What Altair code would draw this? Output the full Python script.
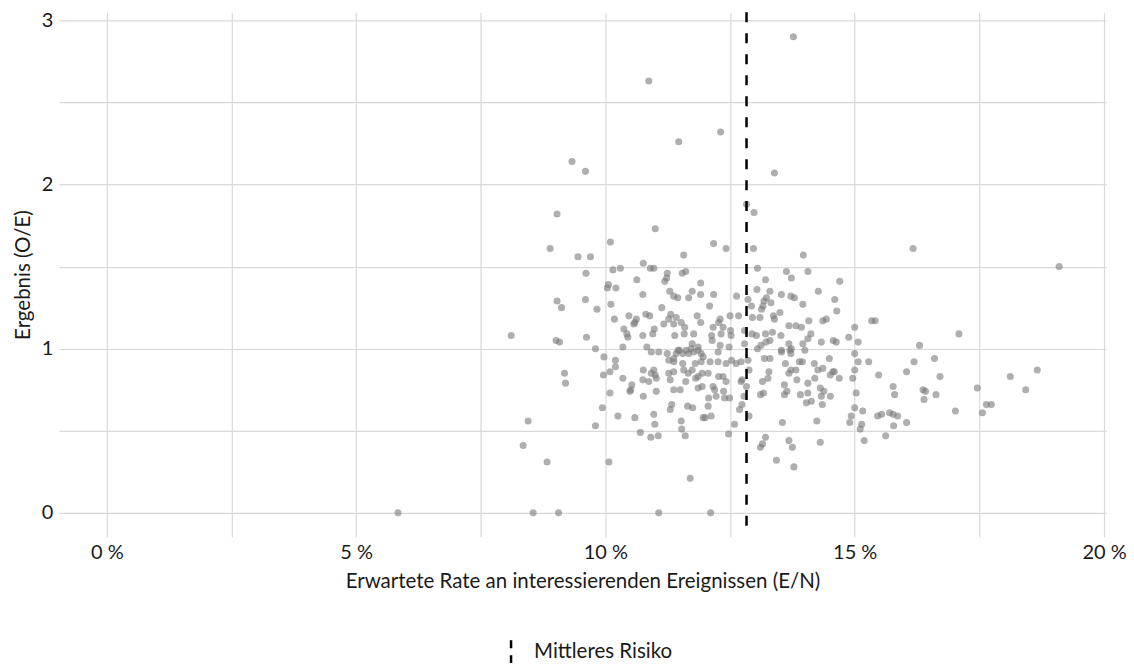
import altair as alt
import pandas as pd

# Expected rate of events of interest (E/N), in percent
rate_pct = [
    5.84, 8.55, 9.06, 11.07, 12.11, 8.83, 8.35, 8.45, 10.07, 11.70, 8.11,
    13.77, 10.87, 12.31, 11.47, 9.33, 9.60, 13.39, 12.83, 12.98, 9.03, 11.00,
    8.89, 10.10, 9.45, 9.70, 12.17, 12.42, 11.57, 12.97, 16.17, 19.10, 13.97,
    # upper-left cluster
    10.76, 10.15, 10.30, 10.90, 10.97, 9.61, 11.24, 11.23, 11.19, 11.54, 11.61,
    11.91, 10.63, 10.06, 10.04, 10.21, 11.29, 11.37, 11.45, 11.67, 11.74, 11.91,
    10.75, 9.03, 9.12, 9.60, 9.83, 10.11, 10.18, 10.47, 10.62, 10.59, 10.81,
    10.89, 11.13, 11.31, 11.27, 11.42, 11.17, 11.37, 11.52, 11.59, 11.84, 11.91,
    10.37, 10.43, 10.45, 10.75, 10.95, 10.98, 10.83, 11.39, 11.58, 11.77, 9.62,
    9.01, 9.08, 9.80, 10.35, 11.74, 11.86, 11.46, 10.57,
    # upper-right cluster
    13.05, 13.63, 13.73, 14.06, 13.21, 14.70, 13.04, 13.30, 14.27, 13.53, 13.72,
    13.79, 14.60, 12.17, 12.63, 12.86, 12.93, 13.23, 13.18, 13.16, 13.13, 13.32,
    12.09, 13.96, 14.64, 13.50, 13.37, 13.39, 13.10, 12.95, 12.67, 12.50, 12.30,
    12.27, 12.16, 12.36, 12.51, 12.79, 12.13, 12.14, 12.32, 12.52, 12.94, 13.03,
    13.21, 13.35, 13.52, 13.68, 13.82, 13.93, 14.08, 14.36, 14.43, 15.00, 15.34,
    15.41, 14.12, 14.06, 14.57, 14.63, 14.88, 15.07, 14.33, 13.68, 13.30, 13.22,
    13.12, 13.05, 13.53, 13.73, 14.00, 12.30, 12.48, 12.79, 13.96,
    # lower-left cluster
    9.97, 10.20, 10.20, 10.09, 9.96, 9.18, 9.20, 10.35, 10.53, 10.49, 10.51,
    10.09, 9.94, 9.80, 10.25, 10.59, 10.76, 10.76, 10.75, 10.87, 10.92, 10.97,
    11.02, 11.00, 11.02, 10.92, 11.07, 11.24, 11.27, 11.37, 11.42, 11.48, 11.55,
    11.62, 11.67, 11.72, 11.77, 11.86, 11.92, 11.96, 11.37, 11.55, 11.80, 11.92,
    11.27, 11.37, 11.57, 11.66, 11.74, 11.81, 11.86, 11.94, 11.30, 11.61, 11.86,
    11.94, 11.37, 11.50, 11.65, 11.75, 11.33, 11.30, 10.97, 10.99, 11.52, 11.53,
    11.60, 10.70, 10.91, 11.06, 11.96,
    # lower-right cluster
    12.10, 12.26, 12.42, 12.53, 12.26, 12.62, 12.72, 12.86, 12.88, 12.06, 12.27,
    12.36, 12.42, 12.16, 12.19, 12.37, 12.22, 12.39, 12.49, 12.07, 12.72, 12.74,
    12.83, 12.78, 12.74, 12.69, 12.06, 12.12, 12.00, 12.88, 12.59, 12.47, 13.15,
    13.26, 13.28, 13.19, 13.30, 13.53, 13.70, 13.72, 13.61, 13.72, 13.82, 13.68,
    13.84, 13.89, 13.95, 13.59, 13.64, 13.59, 13.91, 14.06, 14.06, 14.03, 14.13,
    14.19, 14.26, 14.36, 14.20, 14.31, 14.38, 14.33, 14.35, 14.49, 14.51, 14.59,
    14.56, 14.69, 14.51, 14.24, 14.31, 13.55, 13.21, 13.15, 13.11, 13.68, 13.75,
    13.43, 13.78, 15.00, 15.07, 15.28, 14.96, 15.00, 15.03, 15.00, 15.16, 14.93,
    14.90, 15.14, 15.11, 15.19, 13.11, 13.17,
    # far right
    17.09, 16.30, 15.48, 16.19, 16.60, 16.04, 16.71, 15.77, 15.80, 16.37, 16.42,
    16.39, 16.63, 17.02, 17.46, 17.56, 17.64, 17.74, 18.12, 18.43, 18.66, 15.46,
    15.54, 15.70, 15.77, 15.86, 15.78, 16.04, 15.62,
]

# Outcome (O/E)
oe_ratio = [
    0.00, 0.00, 0.00, 0.00, 0.00, 0.31, 0.41, 0.56, 0.31, 0.21, 1.08,
    2.90, 2.63, 2.32, 2.26, 2.14, 2.08, 2.07, 1.88, 1.83, 1.82, 1.73,
    1.61, 1.65, 1.56, 1.56, 1.64, 1.61, 1.57, 1.61, 1.61, 1.50, 1.57,
    1.52, 1.48, 1.49, 1.49, 1.49, 1.46, 1.46, 1.43, 1.41, 1.46, 1.47,
    1.40, 1.42, 1.39, 1.37, 1.37, 1.35, 1.32, 1.31, 1.31, 1.35, 1.33,
    1.33, 1.29, 1.25, 1.30, 1.24, 1.27, 1.18, 1.20, 1.18, 1.16, 1.21,
    1.20, 1.25, 1.21, 1.18, 1.19, 1.15, 1.15, 1.16, 1.13, 1.20, 1.16,
    1.12, 1.09, 1.07, 1.08, 1.09, 1.12, 1.01, 1.08, 1.09, 1.09, 1.07,
    1.05, 1.04, 1.00, 1.01, 1.03, 1.01, 0.99, 1.15,
    1.49, 1.47, 1.43, 1.47, 1.42, 1.41, 1.36, 1.35, 1.35, 1.33, 1.32,
    1.31, 1.30, 1.33, 1.32, 1.30, 1.26, 1.31, 1.29, 1.26, 1.24, 1.28,
    1.26, 1.27, 1.23, 1.22, 1.20, 1.18, 1.19, 1.19, 1.20, 1.20, 1.18,
    1.16, 1.13, 1.13, 1.11, 1.11, 1.08, 1.05, 1.09, 1.08, 1.09, 1.08,
    1.09, 1.10, 1.08, 1.14, 1.14, 1.13, 1.17, 1.17, 1.18, 1.13, 1.17,
    1.17, 1.09, 1.06, 1.05, 1.04, 1.07, 1.04, 1.04, 1.03, 1.05, 1.04,
    1.02, 1.00, 0.99, 1.00, 0.99, 1.02, 1.01, 1.03, 1.03,
    0.95, 0.93, 0.89, 0.86, 0.84, 0.85, 0.79, 0.82, 0.78, 0.74, 0.75,
    0.73, 0.64, 0.53, 0.59, 0.58, 0.71, 0.87, 0.81, 0.80, 0.85, 0.87,
    0.82, 0.84, 0.74, 0.98, 0.98, 0.97, 0.93, 0.94, 0.97, 0.99, 0.97,
    0.99, 0.97, 1.00, 0.98, 0.99, 0.97, 0.95, 0.92, 0.91, 0.91, 0.92,
    0.85, 0.86, 0.87, 0.85, 0.87, 0.82, 0.83, 0.85, 0.81, 0.80, 0.76,
    0.77, 0.75, 0.75, 0.65, 0.64, 0.66, 0.63, 0.60, 0.54, 0.56, 0.51,
    0.47, 0.49, 0.46, 0.47, 0.58,
    0.92, 0.92, 0.91, 0.93, 0.98, 0.91, 0.92, 0.93, 0.87, 0.85, 0.83,
    0.83, 0.80, 0.77, 0.75, 0.74, 0.71, 0.70, 0.70, 0.70, 0.80, 0.81,
    0.77, 0.71, 0.66, 0.63, 0.65, 0.59, 0.58, 0.59, 0.54, 0.48, 0.80,
    0.82, 0.86, 0.94, 0.94, 0.98, 0.99, 0.97, 0.91, 0.87, 0.87, 0.85,
    0.81, 0.92, 0.92, 0.78, 0.74, 0.72, 0.72, 0.79, 0.73, 0.67, 0.68,
    0.91, 0.87, 0.88, 0.82, 0.76, 0.74, 0.71, 0.66, 0.94, 0.84, 0.86,
    0.86, 0.82, 0.71, 0.56, 0.43, 0.55, 0.46, 0.42, 0.40, 0.44, 0.40,
    0.32, 0.28, 0.97, 0.92, 0.92, 0.82, 0.87, 0.73, 0.64, 0.62, 0.59,
    0.55, 0.54, 0.51, 0.44, 0.72, 0.73,
    1.09, 1.02, 0.84, 0.92, 0.94, 0.86, 0.83, 0.77, 0.72, 0.75, 0.74,
    0.69, 0.72, 0.62, 0.76, 0.61, 0.66, 0.66, 0.83, 0.75, 0.87, 0.59,
    0.60, 0.61, 0.60, 0.59, 0.53, 0.55, 0.47,
]

mean_risk_pct = [12.83]
legend_label = ["Mittleres Risiko"]

x_ticks = [0, 2.5, 5, 7.5, 10, 12.5, 15, 17.5, 20]
y_ticks = [0, 0.5, 1, 1.5, 2, 2.5, 3]

FONT = "Lato"
TEXT = "#1a1a1a"

points = pd.DataFrame({"rate": rate_pct, "oe": oe_ratio})
mean_df = pd.DataFrame({"rate": mean_risk_pct, "label": legend_label})

x_scale = alt.Scale(domain=[-0.96, 20.04], nice=False, zero=False)
y_scale = alt.Scale(domain=[-0.146, 3.049], nice=False, zero=False)

scatter = alt.Chart(points).mark_circle(
    size=50, color="#7a7a7a", opacity=0.6
).encode(
    x=alt.X(
        "rate:Q",
        scale=x_scale,
        axis=alt.Axis(
            values=x_ticks,
            labelExpr="datum.value % 5 == 0 ? datum.value + ' %' : ''",
            title="Erwartete Rate an interessierenden Ereignissen (E/N)",
            grid=True,
            ticks=False,
            domain=False,
            labelOverlap=False,
            labelFlush=False,
            labelPadding=6,
            titlePadding=9,
        ),
    ),
    y=alt.Y(
        "oe:Q",
        scale=y_scale,
        axis=alt.Axis(
            values=y_ticks,
            labelExpr="datum.value % 1 == 0 ? datum.value : ''",
            title="Ergebnis (O/E)",
            grid=True,
            ticks=False,
            domain=False,
            labelOverlap=False,
            labelFlush=False,
            labelPadding=6,
            titlePadding=8,
        ),
    ),
)

rule = alt.Chart(mean_df).mark_rule(
    strokeDash=[10, 11], strokeWidth=2.5
).encode(
    x=alt.X("rate:Q", scale=x_scale),
    color=alt.Color(
        "label:N",
        scale=alt.Scale(range=["black"]),
        legend=alt.Legend(
            title=None,
            orient="none",
            legendX=439.5,
            legendY=627,
            padding=0,
            symbolType="M0,-1L0,1",
            symbolSize=529,
            symbolStrokeWidth=2.5,
            symbolDash=[8, 7],
            symbolStrokeColor="black",
            labelOffset=10,
            labelFont=FONT,
            labelFontSize=20.5,
            labelColor=TEXT,
        ),
    ),
)

chart = alt.layer(scatter, rule).properties(
    width=1048,
    height=525,
    padding={"left": 51, "top": 4, "right": 20, "bottom": 126},
    autosize=alt.AutoSizeParams(type="none"),
).configure_view(
    stroke=None
).configure_axis(
    gridColor="#d9d9d9",
    gridWidth=1.2,
    labelFont=FONT,
    labelFontSize=20,
    labelColor=TEXT,
    titleFont=FONT,
    titleFontSize=20.5,
    titleFontWeight="normal",
    titleColor=TEXT,
)

chart.save("out.html", embed_options={"renderer": "svg", "actions": False})
